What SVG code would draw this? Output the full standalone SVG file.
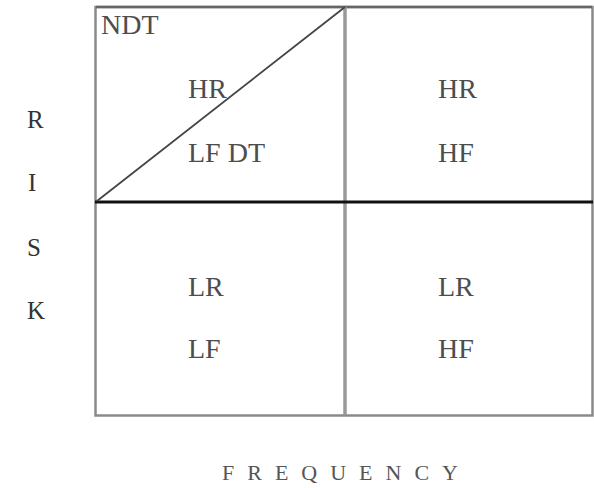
<svg xmlns="http://www.w3.org/2000/svg" width="594" height="488" viewBox="0 0 594 488">
  <style>
    .t { font-family: "Liberation Serif", "Times New Roman", serif; font-size: 28px; fill: #4d4d4d; }
    .axis { font-family: "Liberation Serif", "Times New Roman", serif; font-size: 25px; fill: #333; }
    .freq { font-family: "Liberation Serif", "Times New Roman", serif; font-size: 22px; fill: #555; letter-spacing: 13px; }
    .frame { fill: none; stroke: #8a8a8a; stroke-width: 2.5; }
  </style>
  <rect width="594" height="488" fill="#fff"/>

  <!-- quadrant grid -->
  <g id="grid">
    <rect class="frame" x="95.5" y="7" width="497" height="408.5"/>
    <line x1="96" y1="7" x2="592" y2="7" stroke="#666" stroke-width="2.5"/>
    <line x1="345" y1="7" x2="345" y2="415" stroke="#999" stroke-width="3.5"/>
    <line x1="95" y1="202" x2="593" y2="202" stroke="#111" stroke-width="3"/>
    <line x1="97" y1="201" x2="345" y2="7" stroke="#444" stroke-width="1.8"/>
  </g>

  <g id="q-top-left">
    <text class="t" x="101" y="34" font-size="25">NDT</text>
    <text class="t" x="188" y="98">HR</text>
    <text class="t" x="188" y="162">LF DT</text>
  </g>
  <g id="q-top-right">
    <text class="t" x="438" y="98">HR</text>
    <text class="t" x="438" y="162">HF</text>
  </g>
  <g id="q-bottom-left">
    <text class="t" x="188" y="296">LR</text>
    <text class="t" x="188" y="358">LF</text>
  </g>
  <g id="q-bottom-right">
    <text class="t" x="438" y="296">LR</text>
    <text class="t" x="438" y="358">HF</text>
  </g>

  <g id="axis-risk">
    <text class="axis" x="27" y="128">R</text>
    <text class="axis" x="28" y="191">I</text>
    <text class="axis" x="27" y="256">S</text>
    <text class="axis" x="27" y="319">K</text>
  </g>
  <g id="axis-frequency">
    <text class="freq" x="222" y="480">FREQUENCY</text>
  </g>
</svg>
